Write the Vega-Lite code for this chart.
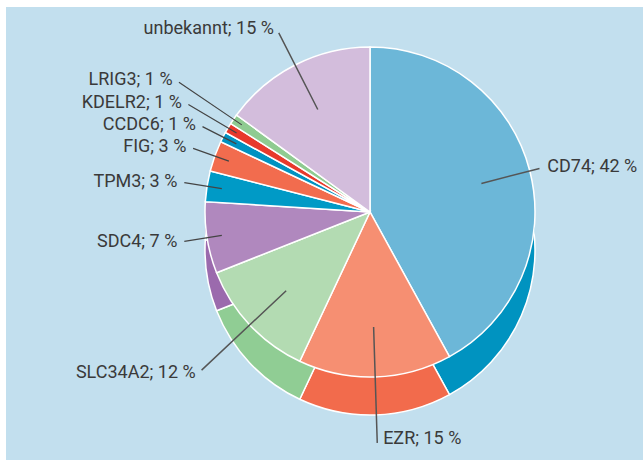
{
  "$schema": "https://vega.github.io/schema/vega-lite/v6.json",
  "autosize": {"type": "none"},
  "width": 637,
  "height": 453,
  "padding": {"left": 6, "right": 0, "top": 7, "bottom": 0},
  "background": "white",
  "view": {"fill": "#c2dfee", "stroke": null},
  "config": {
    "text": {"font": "Roboto", "fontSize": 18, "color": "#3a3a3a"}
  },
  "data": {
    "values": [
      {"idx": 1, "gene": "CD74", "pct": 42, "label": "CD74; 42 %"},
      {"idx": 2, "gene": "EZR", "pct": 15, "label": "EZR; 15 %"},
      {"idx": 3, "gene": "SLC34A2", "pct": 12, "label": "SLC34A2; 12 %"},
      {"idx": 4, "gene": "SDC4", "pct": 7, "label": "SDC4; 7 %"},
      {"idx": 5, "gene": "TPM3", "pct": 3, "label": "TPM3; 3 %"},
      {"idx": 6, "gene": "FIG", "pct": 3, "label": "FIG; 3 %"},
      {"idx": 7, "gene": "CCDC6", "pct": 1, "label": "CCDC6; 1 %"},
      {"idx": 8, "gene": "KDELR2", "pct": 1, "label": "KDELR2; 1 %"},
      {"idx": 9, "gene": "LRIG3", "pct": 1, "label": "LRIG3; 1 %"},
      {"idx": 10, "gene": "unbekannt", "pct": 15, "label": "unbekannt; 15 %"}
    ]
  },
  "encoding": {
    "theta": {"field": "pct", "type": "quantitative", "stack": true},
    "order": {"field": "idx", "type": "quantitative"}
  },
  "layer": [
    {
      "mark": {"type": "arc", "radius": 165, "xOffset": 45.5, "yOffset": -2.5},
      "encoding": {
        "color": {"field": "gene", "type": "nominal", "legend": null,
          "scale": {"domain": ["CD74","EZR","SLC34A2","SDC4","TPM3","FIG","CCDC6","KDELR2","LRIG3","unbekannt"],
                    "range": ["#0093c0","#f26b4c","#90cd94","#9b6aad","#0082ad","#e0573a","#007ca8","#cc2a20","#78b97b","#bfa3cc"]}}
      }
    },
    {
      "mark": {"type": "arc", "radius": 165, "xOffset": 45.5, "yOffset": 16.5, "stroke": "white", "strokeWidth": 1.5},
      "encoding": {
        "color": {"field": "gene", "type": "nominal", "legend": null}
      }
    },
    {
      "mark": {"type": "arc", "radius": 165, "xOffset": 45.5, "yOffset": -21.5, "stroke": "white", "strokeWidth": 1.5},
      "encoding": {
        "fill": {"field": "gene", "type": "nominal", "legend": null,
          "scale": {"domain": ["CD74","EZR","SLC34A2","SDC4","TPM3","FIG","CCDC6","KDELR2","LRIG3","unbekannt"],
                    "range": ["#6cb7d8","#f68f72","#b3dbb2","#b088be","#009ac6","#f26c4e","#0092c1","#e8392c","#8fcb91","#d3bddc"]}}
      }
    },
    {
      "mark": {"type": "arc", "innerRadius": 150, "outerRadius": 188, "padAngle": 3.14, "xOffset": 45.5, "yOffset": -21.5, "stroke": "#444444", "strokeWidth": 1.2, "fillOpacity": 0},
      "encoding": {"strokeOpacity": {"condition": {"test": "indexof(['SDC4','TPM3','FIG','CCDC6'], datum.gene) >= 0", "value": 1}, "value": 0}}
    },
    {
      "mark": {"type": "arc", "innerRadius": 155, "outerRadius": 211, "padAngle": 3.14, "xOffset": 45.5, "yOffset": -21.5, "stroke": "#444444", "strokeWidth": 1.2, "fillOpacity": 0},
      "encoding": {"strokeOpacity": {"condition": {"test": "datum.gene === 'KDELR2'", "value": 1}, "value": 0}}
    },
    {
      "mark": {"type": "arc", "innerRadius": 155, "outerRadius": 231, "padAngle": 3.14, "xOffset": 45.5, "yOffset": -21.5, "stroke": "#444444", "strokeWidth": 1.2, "fillOpacity": 0},
      "encoding": {"strokeOpacity": {"condition": {"test": "datum.gene === 'LRIG3'", "value": 1}, "value": 0}}
    },
    {
      "mark": {"type": "arc", "innerRadius": 115, "outerRadius": 231, "padAngle": 3.14, "xOffset": 45.5, "yOffset": -21.5, "stroke": "#555555", "strokeWidth": 1.5, "fillOpacity": 0},
      "encoding": {"strokeOpacity": {"condition": {"test": "datum.gene === 'SLC34A2' || datum.gene === 'EZR'", "value": 1}, "value": 0}}
    },
    {
      "mark": {"type": "arc", "innerRadius": 115, "outerRadius": 201, "padAngle": 3.14, "xOffset": 45.5, "yOffset": -21.5, "stroke": "#555555", "strokeWidth": 1.5, "fillOpacity": 0},
      "encoding": {"strokeOpacity": {"condition": {"test": "datum.gene === 'unbekannt'", "value": 1}, "value": 0}}
    },
    {
      "mark": {"type": "arc", "innerRadius": 115, "outerRadius": 175, "padAngle": 3.14, "xOffset": 45.5, "yOffset": -21.5, "stroke": "#555555", "strokeWidth": 1.5, "fillOpacity": 0},
      "encoding": {"strokeOpacity": {"condition": {"test": "datum.gene === 'CD74'", "value": 1}, "value": 0}}
    },
    {
      "mark": {"type": "text", "radius": 192, "xOffset": 45.5, "yOffset": -21.5, "align": "right", "baseline": "middle", "dx": -3},
      "encoding": {"text": {"condition": {"test": "indexof(['SDC4','TPM3','FIG','CCDC6'], datum.gene) >= 0", "field": "label"}, "value": ""}}
    },
    {
      "mark": {"type": "text", "radius": 215, "xOffset": 45.5, "yOffset": -21.5, "align": "right", "baseline": "middle", "dx": -3},
      "encoding": {"text": {"condition": {"test": "datum.gene === 'KDELR2'", "field": "label"}, "value": ""}}
    },
    {
      "mark": {"type": "text", "radius": 235, "xOffset": 45.5, "yOffset": -21.5, "align": "right", "baseline": "middle", "dx": -3},
      "encoding": {"text": {"condition": {"test": "datum.gene === 'LRIG3' || datum.gene === 'SLC34A2'", "field": "label"}, "value": ""}}
    },
    {
      "mark": {"type": "text", "radius": 205, "xOffset": 45.5, "yOffset": -21.5, "align": "right", "baseline": "middle", "dx": -3},
      "encoding": {"text": {"condition": {"test": "datum.gene === 'unbekannt'", "field": "label"}, "value": ""}}
    },
    {
      "mark": {"type": "text", "radius": 227, "xOffset": 45.5, "yOffset": -21.5, "align": "left", "baseline": "middle", "dx": 6},
      "encoding": {"text": {"condition": {"test": "datum.gene === 'EZR'", "field": "label"}, "value": ""}}
    },
    {
      "mark": {"type": "text", "radius": 180, "xOffset": 45.5, "yOffset": -21.5, "align": "left", "baseline": "middle", "dx": 3},
      "encoding": {"text": {"condition": {"test": "datum.gene === 'CD74'", "field": "label"}, "value": ""}}
    }
  ]
}
